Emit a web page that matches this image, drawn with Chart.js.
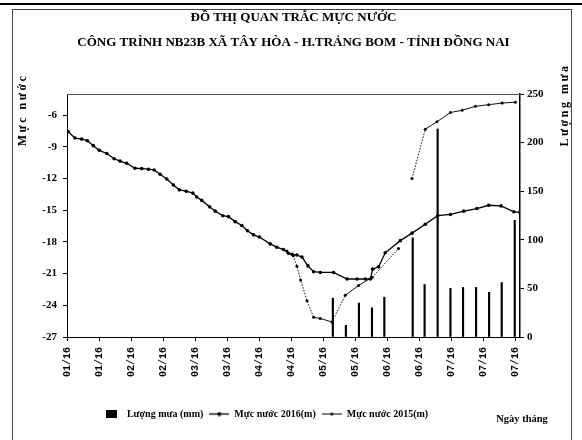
<!DOCTYPE html>
<html><head><meta charset="utf-8">
<script src="https://cdn.jsdelivr.net/npm/chart.js@4.4.1/dist/chart.umd.min.js"></script>
<style>html,body{margin:0;padding:0;background:#fff}#wrap{width:582px;height:440px;position:relative}</style>
</head><body><div id="wrap"><canvas id="c" width="582" height="440"></canvas></div>
<script>
// ---- data (x = days counted from the first axis tick, one tick every 14 days) ----
const titleLines = ['ĐỒ THỊ QUAN TRẮC MỰC NƯỚC', 'CÔNG TRÌNH NB23B XÃ TÂY HÒA - H.TRẢNG BOM - TỈNH ĐỒNG NAI'];
const xTickLabels = ['01/16','01/16','02/16','02/16','03/16','03/16','04/16','04/16','05/16','05/16','06/16','06/16','07/16','07/16','07/16'];
const seriesNames = ['Lượng mưa (mm)', 'Mực nước 2016(m)', 'Mực nước 2015(m)'];
const leftAxisTitle = 'Mực nước';
const rightAxisTitle = 'Lượng mưa';
const xAxisTitle = 'Ngày tháng';

const day2016 = [0.5,3.5,6.4,8.9,11.5,14.1,17.4,20.6,23.2,26.1,29.7,32.7,35.6,38.1,40.7,43.6,46.5,49.1,52.1,55.0,56.7,58.9,62.3,64.8,68.1,70.6,73.5,76.4,78.9,81.5,84.1,88.8,91.7,94.6,96.8,98.4,100.5,102.7,105.3,107.8,110.7,116.5,122.4,126.8,130.4,132.6,133.6,136.2,139.1,145.7,150.8,156.6,162.0,167.6,173.4,179.2,184.3,189.7,195.3,198.0];
const level2016 = [-7.56,-8.17,-8.27,-8.42,-8.89,-9.33,-9.63,-10.13,-10.35,-10.56,-11.03,-11.06,-11.12,-11.19,-11.59,-12.05,-12.61,-13.07,-13.2,-13.38,-13.75,-14.07,-14.68,-15.09,-15.52,-15.61,-16.08,-16.45,-16.95,-17.33,-17.54,-18.19,-18.5,-18.72,-19.07,-19.17,-19.24,-19.43,-20.27,-20.82,-20.89,-20.89,-21.51,-21.51,-21.51,-21.51,-20.58,-20.36,-19.03,-17.88,-17.17,-16.33,-15.52,-15.4,-15.09,-14.84,-14.53,-14.59,-15.15,-15.21];

const day2015 = [96.1,98.9,100.5,102.1,104.9,107.8,110.7,115.8,121.6,127.4,133.4,144.9,147.5,150.8,156.6,161.7,167.6,172.7,178.5,184.3,190.2,196.0];
const level2015 = [-18.87,-19.3,-20.3,-21.6,-23.57,-25.14,-25.25,-25.57,-23.06,-22.13,-21.35,-18.63,null,-12.0,-7.33,-6.63,-5.75,-5.54,-5.17,-5.01,-4.86,-4.77];

const rainDay = [116.2,121.9,127.6,133.3,138.7,151.1,156.3,162.0,167.6,173.1,178.8,184.5,190.0,195.7];
const rainMm = [40,12,35,30,41,102,54,214,50,51,51,46,56,120];

const leftTicks = {min: -27, max: -4, step: 3};
const rightTicks = {min: 0, max: 250, step: 50};
const xRange = {min: 0, max: 198, step: 14};

// ---- helpers ----
const SERIF = '"Liberation Serif", "Times New Roman", serif';
const pts = (xs, ys) => xs.map((x, i) => ({x: x, y: ys[i]}));

function legendIcon(kind) {
  const cv = document.createElement('canvas');
  if (kind === 'bar') { cv.width = 11; cv.height = 8; const g = cv.getContext('2d'); g.fillStyle = '#000'; g.fillRect(0, 0, 11, 8); return cv; }
  cv.width = 20; cv.height = 5; const g = cv.getContext('2d');
  g.strokeStyle = '#000'; g.lineWidth = kind === 'l16' ? 1.3 : 1;
  g.beginPath(); g.moveTo(0, 2.5); g.lineTo(20, 2.5); g.stroke();
  g.fillStyle = '#000'; g.beginPath(); g.arc(10, 2.5, kind === 'l16' ? 2 : 1.5, 0, Math.PI * 2); g.fill();
  return cv;
}
const icons = [legendIcon('bar'), legendIcon('l16'), legendIcon('l15')];

const decor = {
  id: 'decor',
  beforeDraw(chart) {
    const c = chart.ctx;
    c.save();
    c.fillStyle = '#fff'; c.fillRect(0, 0, chart.width, chart.height);
    c.strokeStyle = '#000'; c.lineWidth = 2;
    c.beginPath(); c.moveTo(0, 4); c.lineTo(chart.width, 4); c.stroke();
    c.lineWidth = 1; c.strokeStyle = '#444';
    c.strokeRect(12.5, 9.5, 559, 440);
    c.restore();
  },
  afterDraw(chart) {
    const c = chart.ctx, a = chart.chartArea;
    c.save();
    c.strokeStyle = '#555'; c.lineWidth = 1;
    c.beginPath(); c.moveTo(a.left, a.top + 0.5); c.lineTo(a.right, a.top + 0.5); c.stroke();
    c.fillStyle = '#000'; c.textAlign = 'center'; c.textBaseline = 'middle';
    c.font = 'bold 12px ' + SERIF;
    try { c.letterSpacing = '2.5px'; } catch (e) {}
    c.save(); c.translate(23, 110); c.rotate(-Math.PI / 2); c.fillText(leftAxisTitle, 0, 0); c.restore();
    c.save(); c.translate(565, 105); c.rotate(-Math.PI / 2); c.fillText(rightAxisTitle, 0, 0); c.restore();
    try { c.letterSpacing = '0px'; } catch (e) {}
    c.font = 'bold 10.5px ' + SERIF;
    c.fillText(xAxisTitle, 522, 419);
    c.restore();
  }
};

const tickFont = {family: SERIF, size: 11, weight: 'bold'};

new Chart(document.getElementById('c'), {
  type: 'line',
  data: {
    datasets: [
      {
        type: 'line', label: seriesNames[1], data: pts(day2016, level2016), yAxisID: 'y',
        borderColor: '#000', borderWidth: 1.3, pointRadius: 1.8, pointBackgroundColor: '#000',
        pointBorderWidth: 0, pointStyle: 'circle', tension: 0, order: 1
      },
      {
        type: 'line', label: seriesNames[2], data: pts(day2015, level2015), yAxisID: 'y',
        borderColor: '#111', borderWidth: 1, pointRadius: 1.5, pointBackgroundColor: '#000',
        pointBorderWidth: 0, tension: 0, spanGaps: false, order: 2,
        segment: { borderDash: ctx => (Math.abs(ctx.p1.y - ctx.p0.y) > Math.abs(ctx.p1.x - ctx.p0.x) ? [1.5, 1.5] : undefined) }
      },
      {
        type: 'bar', label: seriesNames[0], data: pts(rainDay, rainMm), yAxisID: 'y1',
        backgroundColor: '#000', borderWidth: 0, barThickness: 1.5, order: 3
      }
    ]
  },
  options: {
    responsive: false, animation: false, devicePixelRatio: 1,
    layout: { padding: { left: -52, right: 0, top: 0, bottom: 11 } },
    plugins: {
      title: {
        display: true, text: titleLines, fullSize: false, color: '#000',
        font: {family: SERIF, size: 13, weight: 'bold', lineHeight: '25px'},
        padding: {top: 5, bottom: 39}
      },
      legend: {
        display: true, position: 'bottom',
        labels: {
          color: '#000', font: {family: SERIF, size: 10, weight: 'bold'},
          usePointStyle: true, pointStyleWidth: 20, boxHeight: 8, padding: 6,
          generateLabels: (chart) => {
            const order = [2, 0, 1];
            return order.map((di, k) => ({
              text: chart.data.datasets[di].label, datasetIndex: di,
              pointStyle: icons[k], fillStyle: '#000', strokeStyle: '#000', lineWidth: 0, hidden: false, fontColor: '#000'
            }));
          }
        }
      },
      tooltip: {enabled: false}
    },
    scales: {
      x: {
        type: 'linear', min: xRange.min, max: xRange.max, offset: false,
        afterFit: s => { s.height = 66; },
        border: {display: true, color: '#000', width: 1},
        grid: {display: true, drawOnChartArea: false, drawTicks: true, tickLength: 4, color: '#000', offset: false},
        ticks: {
          stepSize: xRange.step, includeBounds: false, autoSkip: false, maxRotation: 90, minRotation: 90,
          padding: 6, color: '#000', font: {family: '"Liberation Mono", monospace', size: 10, weight: 'bold'},
          callback: v => xTickLabels[Math.round(v / xRange.step)] || ''
        }
      },
      y: {
        type: 'linear', position: 'left', min: leftTicks.min, max: leftTicks.max,
        afterFit: s => { s.width = 119; },
        border: {display: true, color: '#000', width: 1},
        grid: {display: true, drawOnChartArea: false, drawTicks: true, tickLength: 4, color: '#000'},
        ticks: {stepSize: leftTicks.step, includeBounds: false, padding: 6, color: '#000', font: tickFont}
      },
      y1: {
        type: 'linear', position: 'right', min: rightTicks.min, max: rightTicks.max,
        afterFit: s => { s.width = 62; },
        border: {display: true, color: '#000', width: 1.5},
        grid: {display: true, drawOnChartArea: false, drawTicks: true, tickLength: 4, color: '#000'},
        ticks: {stepSize: rightTicks.step, includeBounds: false, padding: 3, color: '#000', font: tickFont}
      }
    }
  },
  plugins: [decor]
});
</script>
</body></html>
